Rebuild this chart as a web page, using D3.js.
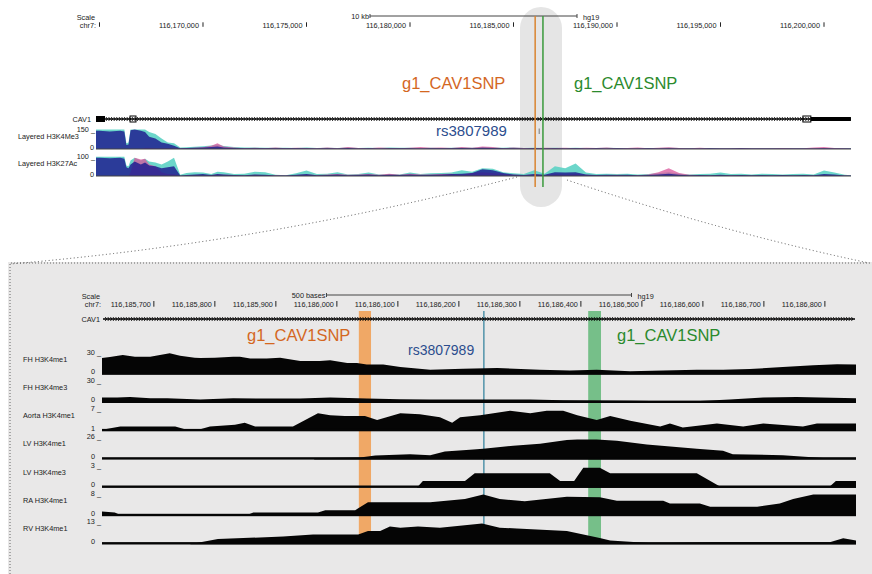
<!DOCTYPE html>
<html><head><meta charset="utf-8">
<script src="https://cdn.jsdelivr.net/npm/d3@7"></script>
<style>
html,body{margin:0;padding:0;background:#fff;}
svg{display:block;font-family:"Liberation Sans",Arial,Helvetica,sans-serif;}
</style></head><body>
<svg id="chart" width="872" height="574"></svg>
<script>
// ---------------- data ----------------
const chrom = "chr7";
const assembly = "hg19";
const geneName = "CAV1";

// overview window (whole CAV1 locus) and zoomed window
const overviewRange = [116164831, 116201304];
const overviewTicks = [116165000, 116170000, 116175000, 116180000, 116185000, 116190000, 116195000, 116200000];
const detailRange = [116185615, 116186851];
const detailTicks = [116185700, 116185800, 116185900, 116186000, 116186100, 116186200, 116186300, 116186400, 116186500, 116186600, 116186700, 116186800];

// CAV1 exons in the overview: [start, end, kind]
const cav1Exons = [
  [116164831, 116165266, "cds"],
  [116166473, 116166763, "box"],
  [116198979, 116199365, "box"],
  [116199365, 116201300, "utr"]
];

// guide RNA sites and the SNP
const guideNames = ["g1_CAV1SNP", "g1_CAV1SNP"];
const guideSites = [[116186036, 116186056], [116186412, 116186433]];
const snpName = "rs3807989";
const snpPos = 116186241;

// layered ENCODE tracks (overview), sampled at these positions
const layeredNames = ["Layered H3K4Me3", "Layered H3K27Ac"];
const layeredMax = [150, 100];
const overviewPos = [
  116164831, 116165000, 116165500, 116166000, 116166200, 116166300, 116166400, 116166500, 116166700, 116167000,
  116167200, 116167400, 116167700, 116168000, 116168300, 116168600, 116168900, 116169200, 116169600, 116170000,
  116170400, 116170700, 116171000, 116171500, 116172000, 116172500, 116173000, 116173500, 116174000, 116174500,
  116175000, 116175500, 116176000, 116176500, 116177000, 116177500, 116178000, 116178500, 116179000, 116179500,
  116180000, 116180500, 116181000, 116181500, 116182000, 116182500, 116183000, 116183500, 116184000, 116184500,
  116185000, 116185500, 116186000, 116186500, 116187000, 116187500, 116188000, 116188500, 116189000, 116189500,
  116190000, 116190500, 116191000, 116191500, 116192000, 116192500, 116193000, 116193500, 116194000, 116194500,
  116195000, 116195500, 116196000, 116196500, 116197000, 116197500, 116198000, 116198500, 116199000, 116199500,
  116200000, 116200500, 116201000, 116201300
];
const k4me3Navy = [140,140,135,140,135,30,35,145,150,140, 130,95,80,50,40,25,5,7,10,12, 15,20,12,8,6,5,6,5,6,5,
  6,4,6,4,7,4,6,4,6,5, 6,4,6,5,6,8,6,9,7,5, 6,4,6,4,6,4,6,4,6,4, 6,4,4,6,4,6,4,4,4,6, 4,4,6,4,4,4,4,4,4,4, 6,4,4,4];
const k4me3Cyan = [150,150,150,150,150,45,50,150,150,150, 150,130,115,80,50,45,12,14,18,22, 26,34,24,16,12,11,10,10,9,8,
  11,8,10,8,12,8,10,8,11,10, 10,8,10,8,10,12,10,14,12,10, 12,8,10,8,10,8,10,8,8,10, 8,8,7,8,8,10,8,7,7,8, 7,7,8,7,7,8,7,7,7,7, 8,7,7,7];
const k4me3Pink = [0,0,0,0,0,0,0,0,0,0, 10,10,5,5,8,5,3,5,10,14, 25,45,20,12,6,10,6,12,5,10,
  8,5,12,6,15,8,6,12,8,6, 10,15,10,12,8,15,10,20,15,6, 12,8,6,10,8,10,6,10,8,11, 6,8,12,6,10,14,8,6,10,5, 6,5,8,5,6,5,8,5,6,12, 15,8,5,3];
const k27Navy = [95,95,92,95,90,45,40,60,75,60, 70,55,50,40,45,50,3,5,8,10, 5,10,8,5,4,8,6,3,2,6,
  10,4,5,8,4,5,8,4,6,5, 8,5,6,8,10,12,15,35,30,15, 8,5,10,6,20,18,20,8,5,6, 5,6,4,5,8,12,6,4,5,4, 6,4,5,4,5,4,5,4,5,4, 10,8,3,2];
const k27Cyan = [100,100,100,100,100,55,50,80,95,80, 90,75,70,60,75,95,6,15,20,18, 10,22,20,10,12,22,20,6,4,14,
  28,10,12,20,8,10,18,8,10,8, 18,10,14,16,18,30,22,40,38,20, 14,10,30,12,50,40,65,18,10,12, 10,12,8,10,14,20,12,8,10,12, 18,10,12,8,12,10,8,10,12,8, 28,18,6,4];
const k27Pink = [0,0,0,0,0,0,0,20,95,85, 90,60,50,20,10,10,0,2,5,4, 5,8,6,5,3,6,4,4,3,5,
  8,5,8,10,6,8,10,6,12,6, 12,8,8,10,12,8,15,20,15,10, 6,5,8,5,10,8,10,6,4,5, 6,5,4,8,20,40,15,6,5,4, 5,4,5,3,4,3,4,3,4,3, 6,4,2,1];

// zoomed-in histone tracks: [position, signal]
const detailNames = ["FH H3K4me1", "FH H3K4me3", "Aorta H3K4me1", "LV H3K4me1", "LV H3K4me3", "RA H3K4me1", "RV H3K4me1"];
const detailMax = [30, 30, 7, 26, 3, 8, 13];
const detailMin = [0, 0, 1, 0, 0, 0, 0];
const fhH3K4me1 = [[116185615,22.9],[116185628,24.3],[116185649,27.1],[116185669,24.7],[116185694,24.7],[116185726,29.6],[116185743,26.1],[116185767,23.3],[116185776,22.9],[116185800,23.3],[116185830,24.7],[116185841,24.7],[116185858,22.4],[116185885,22.4],[116185907,23.3],[116185940,19.0],[116185972,19.0],[116185989,20.0],[116186017,16.1],[116186033,16.1],[116186049,13.9],[116186076,13.9],[116186104,10.4],[116186153,6.7],[116186207,8.1],[116186263,9.0],[116186333,6.7],[116186382,5.7],[116186426,6.7],[116186481,4.7],[116186535,5.7],[116186590,6.7],[116186633,6.7],[116186677,7.6],[116186731,10.4],[116186781,12.9],[116186820,14.3],[116186851,13.9]];
const fhH3K4me3 = [[116185615,7.3],[116185640,7.3],[116185661,8.2],[116185694,6.4],[116185722,6.4],[116185776,4.5],[116185830,6.4],[116185885,5.9],[116185940,5.9],[116185989,7.3],[116186049,5.9],[116186104,5.0],[116186153,4.5],[116186317,4.5],[116186371,3.6],[116186481,2.7],[116186579,1.8],[116186644,4.5],[116186699,7.3],[116186754,8.2],[116186851,6.4]];
const aortaH3K4me1 = [[116185615,1.4],[116185645,2.3],[116185735,2.3],[116185751,1.5],[116185776,1.5],[116185792,2.3],[116185833,2.8],[116185849,3.3],[116185866,2.3],[116185928,2.3],[116185969,6.0],[116185989,5.4],[116186013,5.2],[116186046,5.2],[116186066,4.1],[116186104,6.0],[116186136,5.7],[116186169,4.9],[116186189,3.3],[116186202,4.9],[116186235,5.4],[116186284,6.7],[116186317,6.0],[116186344,6.7],[116186371,6.7],[116186394,5.4],[116186426,4.1],[116186448,5.2],[116186481,3.9],[116186530,2.3],[116186546,3.1],[116186567,2.0],[116186623,3.1],[116186666,2.3],[116186699,3.1],[116186764,2.3],[116186787,3.1],[116186851,3.1]];
const lvH3K4me1 = [[116185615,0],[116185962,0],[116185966,1.5],[116186038,2.4],[116186063,4.7],[116186120,6.3],[116186153,5.1],[116186177,9.5],[116186218,11.8],[116186240,13],[116186289,16.5],[116186333,18.9],[116186377,23.6],[116186394,24.2],[116186426,24.2],[116186459,22.5],[116186508,18.1],[116186590,13],[116186633,10.6],[116186649,6.3],[116186731,5.1],[116186803,1.5],[116186851,1.5]];
const lvH3K4me3 = [[116185615,0],[116186131,0],[116186141,0.95],[116186210,0.95],[116186226,2.0],[116186349,2.0],[116186366,0.95],[116186389,0.95],[116186404,2.78],[116186431,2.78],[116186448,2.0],[116186590,2.0],[116186628,0.17],[116186808,0.17],[116186818,0.95],[116186851,0.95]];
const raH3K4me1 = [[116185615,1.64],[116185636,1.26],[116185645,0.38],[116185853,0.38],[116185863,1.26],[116185969,1.26],[116185981,2.17],[116186030,2.17],[116186051,5.07],[116186153,5.07],[116186210,6.36],[116186240,8.0],[116186267,6.36],[116186308,5.45],[116186377,7.2],[116186431,6.97],[116186459,5.7],[116186535,5.7],[116186546,4.69],[116186595,4.69],[116186612,3.43],[116186689,3.43],[116186726,4.69],[116186748,6.36],[116186781,8.0],[116186851,8.0]];
const rvH3K4me1 = [[116185615,0],[116185759,0],[116185805,3.2],[116185912,4.7],[116185961,6.0],[116186035,6.0],[116186051,8.1],[116186071,8.1],[116186087,10.7],[116186104,10.0],[116186133,10.7],[116186169,10.0],[116186238,12.6],[116186267,10.0],[116186295,9.6],[116186377,8.1],[116186431,3.8],[116186448,2.3],[116186518,0.57],[116186617,1.3],[116186808,1.3],[116186830,3.6],[116186851,2.3]];
const detailSignals = [fhH3K4me1, fhH3K4me3, aortaH3K4me1, lvH3K4me1, lvH3K4me3, raH3K4me1, rvH3K4me1];

// ---------------- drawing ----------------
const svg = d3.select("#chart");
const fmt = d3.format(",");
const ORANGE = "#d4671f", GREEN = "#2b8a2d", BLUE = "#2c4d8e";
const SMALL = 7.3;

const xTop = d3.scaleLinear().domain(overviewRange).range([96, 851]);
const xDet = d3.scaleLinear().domain(detailRange).range([102, 856]);

function txt(g, x, y, s, opts = {}) {
  return g.append("text").attr("x", x).attr("y", y)
    .attr("font-size", opts.size || SMALL)
    .attr("fill", opts.fill || "#222")
    .attr("text-anchor", opts.anchor || "start")
    .text(s);
}

// zoomed panel background with dotted frame
svg.append("rect").attr("x", 8).attr("y", 262).attr("width", 864).attr("height", 312).attr("fill", "#e9e8e8");
svg.append("path").attr("d", "M10,574 L10,263 L872,263")
  .attr("fill", "none").attr("stroke", "#666").attr("stroke-width", 1).attr("stroke-dasharray", "1,2");

// highlight capsule around the edited region
svg.append("rect").attr("x", 520).attr("y", 7).attr("width", 42).attr("height", 200).attr("rx", 21).attr("fill", "#e5e5e5");

// dotted connectors from overview to zoomed panel
svg.append("path").attr("d", "M517,177 Q263,243 10,264")
  .attr("fill", "none").attr("stroke", "#555").attr("stroke-width", 1).attr("stroke-dasharray", "1,2.6");
svg.append("path").attr("d", "M567,180 Q722,232 869,263")
  .attr("fill", "none").attr("stroke", "#555").attr("stroke-width", 1).attr("stroke-dasharray", "1,2.6");

// base ruler
function drawRuler(x, ticks, o) {
  const g = svg.append("g");
  txt(g, o.labelRight - 1, o.scaleY, "Scale", { anchor: "end" });
  txt(g, o.labelRight, o.tickTextY, chrom + ":", { anchor: "end" });
  ticks.forEach(t => {
    const px = x(t);
    g.append("line").attr("x1", px).attr("x2", px).attr("y1", o.tickY0).attr("y2", o.tickY1)
      .attr("stroke", "#222").attr("stroke-width", 1);
    if (px - 48 > o.labelRight) txt(g, px - o.gap, o.tickTextY, fmt(t), { anchor: "end" });
  });
  const [r0, r1] = x.range();
  const mid = (r0 + r1) / 2;
  const len = x(x.domain()[0] + o.barBp) - x(x.domain()[0]);
  const b0 = mid - len / 2, b1 = mid + len / 2;
  g.append("line").attr("x1", b0).attr("x2", b1).attr("y1", o.barY).attr("y2", o.barY).attr("stroke", "#444").attr("stroke-width", 1);
  [b0, b1].forEach(bx => g.append("line").attr("x1", bx).attr("x2", bx).attr("y1", o.barY - 2).attr("y2", o.barY + 2).attr("stroke", "#444"));
  txt(g, b0 - 1, o.barY + 2.5, o.barLabel, { anchor: "end" });
  txt(g, b1 + 6, o.barY + 3.5, assembly);
}

// gene model: intron line with strand chevrons plus exon blocks
function drawGene(x, y, exons, x0, x1) {
  const g = svg.append("g");
  g.append("line").attr("x1", x0).attr("x2", x1).attr("y1", y).attr("y2", y).attr("stroke", "#000").attr("stroke-width", 1.3);
  const chev = d3.path();
  for (let px = x0 + 3; px < x1 - 2; px += 2.6) {
    chev.moveTo(px - 0.8, y - 2); chev.lineTo(px + 0.6, y); chev.lineTo(px - 0.8, y + 2);
  }
  g.append("path").attr("d", chev.toString()).attr("fill", "none").attr("stroke", "#000").attr("stroke-width", 0.8);
  exons.forEach(([s, e, kind]) => {
    const a = x(s), b = x(e);
    if (kind === "box") {
      g.append("rect").attr("x", a).attr("y", y - 3).attr("width", b - a).attr("height", 6)
        .attr("fill", "none").attr("stroke", "#000").attr("stroke-width", 1);
    } else {
      const h = kind === "cds" ? 6 : 4;
      g.append("rect").attr("x", a).attr("y", y - h / 2).attr("width", b - a).attr("height", h).attr("fill", "#000");
    }
  });
}

// ===== overview =====
drawRuler(xTop, overviewTicks, { labelRight: 96, scaleY: 20.2, tickTextY: 27.6, tickY0: 22.3, tickY1: 26.8, gap: 4, barBp: 10000, barY: 16, barLabel: "10 kb" });

txt(svg, 91, 121.5, geneName, { anchor: "end" });
drawGene(xTop, 119, cav1Exons, 96, 851);

// layered tracks
const overviewLayers = [
  { base: 149, top: 129.5, layers: [k4me3Cyan, k4me3Pink, k4me3Navy] },
  { base: 176, top: 156.7, layers: [k27Cyan, k27Pink, k27Navy] }
];
const layerColors = ["#5cd2c4", "#d9559b", "#202090"];
const layerOpacity = [0.9, 0.75, 0.85];
overviewLayers.forEach((tr, i) => {
  const y = d3.scaleLinear().domain([0, layeredMax[i]]).range([tr.base, tr.top]).clamp(true);
  const g = svg.append("g");
  txt(g, 18, tr.base - 10, layeredNames[i]);
  txt(g, 95, tr.top + 2, layeredMax[i] + " _", { anchor: "end" });
  txt(g, 94, tr.base + 0.5, "0", { anchor: "end" });
  tr.layers.forEach((vals, k) => {
    const area = d3.area().x((d, j) => xTop(overviewPos[j])).y0(tr.base).y1(d => y(d));
    g.append("path").attr("d", area(vals)).attr("fill", layerColors[k]).attr("fill-opacity", layerOpacity[k]);
  });
  g.append("line").attr("x1", 96).attr("x2", 851).attr("y1", tr.base).attr("y2", tr.base).attr("stroke", "#444").attr("stroke-width", 1);
});

// SNP mark in the overview
svg.append("line").attr("x1", xTop(snpPos)).attr("x2", xTop(snpPos)).attr("y1", 128.5).attr("y2", 134)
  .attr("stroke", "#777").attr("stroke-width", 1);
txt(svg, 436, 136, snpName, { size: 15, fill: BLUE });

// guide sites as thin lines over the overview
const guideColorsTop = ["#d9832f", "#3a9a3c"];
guideSites.forEach(([s, e], i) => {
  const px = xTop((s + e) / 2);
  svg.append("line").attr("x1", px).attr("x2", px).attr("y1", 16).attr("y2", 187)
    .attr("stroke", guideColorsTop[i]).attr("stroke-width", 1.5);
});
txt(svg, 402, 89, guideNames[0], { size: 16.5, fill: ORANGE });
txt(svg, 574, 89, guideNames[1], { size: 16.5, fill: GREEN });

// ===== zoomed panel =====
drawRuler(xDet, detailTicks, { labelRight: 101, scaleY: 299.3, tickTextY: 307, tickY0: 301, tickY1: 306.7, gap: 3, barBp: 500, barY: 295, barLabel: "500 bases" });

// highlight bands behind the signal
const bandColors = ["#f0a866", "#76bf89"];
guideSites.forEach(([s, e], i) => {
  svg.append("rect").attr("x", xDet(s)).attr("y", 311).attr("width", xDet(e) - xDet(s)).attr("height", 229)
    .attr("fill", bandColors[i]);
});
svg.append("line").attr("x1", xDet(snpPos)).attr("x2", xDet(snpPos)).attr("y1", 311).attr("y2", 538)
  .attr("stroke", "#3a86a0").attr("stroke-width", 1.3);

txt(svg, 100, 321.5, geneName, { anchor: "end" });
drawGene(xDet, 319, [], 103, 855);

txt(svg, 247, 341, guideNames[0], { size: 16.5, fill: ORANGE });
txt(svg, 617, 341, guideNames[1], { size: 16.5, fill: GREEN });
txt(svg, 408, 355, snpName, { size: 14, fill: BLUE });

detailSignals.forEach((sig, i) => {
  const top = 353 + i * 28.3, base = top + 21.5;
  const y = d3.scaleLinear().domain([detailMin[i], detailMax[i]]).range([base, top]).clamp(true);
  const g = svg.append("g");
  txt(g, 23, top + 8.5, detailNames[i]);
  txt(g, 101, top + 1.5, detailMax[i] + " _", { anchor: "end" });
  txt(g, 95, base - 0.5, String(detailMin[i]), { anchor: "end" });
  const area = d3.area().x(d => xDet(d[0])).y0(base).y1(d => y(d[1]));
  g.append("path").attr("d", area(sig)).attr("fill", "#050505");
  g.append("rect").attr("x", 102).attr("y", base - 2.2).attr("width", 754).attr("height", 2.4).attr("fill", "#050505");
});
</script>
</body></html>
